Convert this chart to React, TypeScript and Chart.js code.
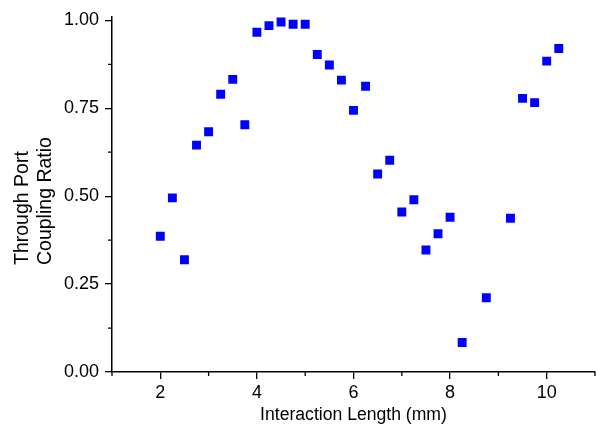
import React, { useEffect, useRef } from "react";
import { Chart, registerables } from "chart.js";

Chart.register(...registerables);

const lengthsMm = [2, 2.25, 2.5, 2.75, 3, 3.25, 3.5, 3.75, 4, 4.25, 4.5, 4.75, 5, 5.25, 5.5, 5.75, 6, 6.25, 6.5, 6.75, 7, 7.25, 7.5, 7.75, 8, 8.25, 8.75, 9.25, 9.5, 9.75, 10, 10.25];
const couplingRatio = [0.386, 0.495, 0.319, 0.645, 0.683, 0.79, 0.832, 0.703, 0.966, 0.985, 0.995, 0.989, 0.989, 0.903, 0.873, 0.83, 0.744, 0.8125, 0.563, 0.602, 0.455, 0.49, 0.347, 0.393, 0.44, 0.084, 0.211, 0.437, 0.778, 0.766, 0.884, 0.92];

const xTickValues = [2, 4, 6, 8, 10];
const yTickValues = [0, 0.25, 0.5, 0.75, 1];
const xMinorTicks = [1, 3, 5, 7, 9, 11];
const yMinorTicks = [0.125, 0.375, 0.625, 0.875];

const xTitle = "Interaction Length (mm)";
const yTitle = ["Through Port", "Coupling Ratio"];

const FONT = "'Liberation Sans', Arial, sans-serif";

const minorTicksPlugin = {
  id: "minorTicks",
  afterDraw(chart: any) {
    const { ctx, scales, chartArea } = chart;
    const x = scales.x;
    const y = scales.y;
    ctx.save();
    ctx.strokeStyle = "#000";
    ctx.lineWidth = 1.3;
    ctx.beginPath();
    yMinorTicks.forEach((v) => {
      const py = y.getPixelForValue(v);
      ctx.moveTo(chartArea.left - 4, py);
      ctx.lineTo(chartArea.left, py);
    });
    xMinorTicks.forEach((v) => {
      const px = x.getPixelForValue(v);
      ctx.moveTo(px, chartArea.bottom);
      ctx.lineTo(px, chartArea.bottom + 4);
    });
    ctx.stroke();
    ctx.restore();
  },
};

const yTitlePlugin = {
  id: "yTitleStart",
  afterDraw(chart: any) {
    const { ctx } = chart;
    ctx.save();
    ctx.fillStyle = "#000";
    ctx.font = `19.5px ${FONT}`;
    ctx.textAlign = "left";
    ctx.textBaseline = "alphabetic";
    const startY = 265;
    const baselines = [27.5, 51];
    yTitle.forEach((line, i) => {
      ctx.save();
      ctx.translate(baselines[i], startY);
      ctx.rotate(-Math.PI / 2);
      ctx.fillText(line, 0, 0);
      ctx.restore();
    });
    ctx.restore();
  },
};

export default function App() {
  const canvasRef = useRef<HTMLCanvasElement | null>(null);

  useEffect(() => {
    const canvas = canvasRef.current;
    if (!canvas) return;
    const chart = new Chart(canvas, {
      type: "scatter",
      data: {
        datasets: [
          {
            data: lengthsMm.map((x, i) => ({ x, y: couplingRatio[i] })),
            backgroundColor: "#0000FF",
            borderColor: "#0000FF",
            borderWidth: 0,
            pointStyle: "rect",
            pointRadius: 6.3,
            pointHoverRadius: 6.3,
          },
        ],
      },
      options: {
        responsive: false,
        animation: false,
        devicePixelRatio: 1,
        layout: { autoPadding: false, padding: { top: 16.5, right: 1, left: 0, bottom: 0 } },
        plugins: {
          legend: { display: false },
          tooltip: { enabled: false },
        },
        scales: {
          x: {
            type: "linear",
            min: 1,
            max: 11,
            afterBuildTicks: (s: any) => {
              s.ticks = xTickValues.map((v) => ({ value: v }));
            },
            afterFit: (s: any) => {
              s.height = 55;
            },
            ticks: {
              color: "#000",
              font: { family: FONT, size: 18 },
              padding: 3,
              callback: (v: any) => String(v),
            },
            grid: {
              drawOnChartArea: false,
              drawTicks: true,
              tickLength: 7,
              color: "#000",
              lineWidth: 1.3,
            },
            border: { display: true, color: "#000", width: 1.5 },
            title: {
              display: true,
              text: xTitle,
              color: "#000",
              font: { family: FONT, size: 17.6 },
              padding: { top: 0, bottom: 1 },
            },
          },
          y: {
            type: "linear",
            min: 0,
            max: 1.01,
            afterBuildTicks: (s: any) => {
              s.ticks = yTickValues.map((v) => ({ value: v }));
            },
            afterFit: (s: any) => {
              s.width = 112;
            },
            ticks: {
              color: "#000",
              font: { family: FONT, size: 18 },
              padding: 6,
              callback: (v: any) => Number(v).toFixed(2),
            },
            grid: {
              drawOnChartArea: false,
              drawTicks: true,
              tickLength: 7,
              color: "#000",
              lineWidth: 1.3,
            },
            border: { display: true, color: "#000", width: 1.5 },
            title: { display: false },
          },
        },
      },
      plugins: [minorTicksPlugin, yTitlePlugin],
    });
    return () => chart.destroy();
  }, []);

  return (
    <div style={{ position: "absolute", left: 0, top: 0, width: 596, height: 427, background: "#fff" }}>
      <canvas ref={canvasRef} width={596} height={427} style={{ display: "block" }} />
    </div>
  );
}
